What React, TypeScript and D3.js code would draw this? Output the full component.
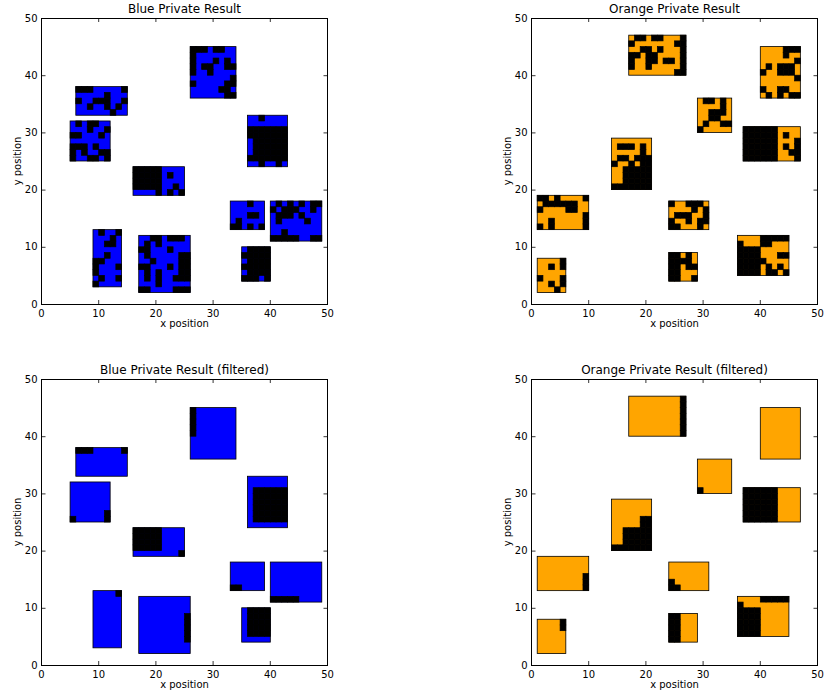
import React from "react";
import * as d3 from "d3";

type Block = { x: number; top: number; rows: string[] };

const blueRaw: Block[] = [
  { x: 6, top: 38, rows: ["###.....#", ".....#...", "#..###..#", "..#..#.#.", "......#.."] },
  { x: 5, top: 32, rows: [".#.##..", "...#..#", "##...#.", ".......", "###.#..", "#.#..##", "#..##.#"] },
  { x: 26, top: 45, rows: ["###.##..", "#.......", "#...#.#.", "#.##..##", "#..#....", ".......#", "#.....##", ".....##.", "......##"] },
  { x: 36, top: 33, rows: ["..#....", ".......", "#######", "#######", ".######", ".######", ".######", "#######", "..#..#."] },
  { x: 16, top: 24, rows: ["#####....", "#####.#..", "#####....", "#####..#.", "....#.#.#"] },
  { x: 33, top: 18, rows: ["...#..", "......", "...##.", ".#....", "##.#.#"] },
  { x: 40, top: 18, rows: [".#.#.#.##", "#.###..#.", ".###.#...", ".#....#..", ".........", "..#......", "#####..##"] },
  { x: 9, top: 13, rows: [".#..#", "...#.", "..##.", ".....", "..#..", "##...", "#...#", "#....", ".#..#", "#...."] },
  { x: 17, top: 12, rows: ["..##.###.", ".#.#.....", "##...#...", ".#.....##", "..#....##", "##...#.##", ".#.#...##", ".#.#..###", "...#.....", "##....###"] },
  { x: 35, top: 10, rows: [".####", "#####", ".####", "#####", ".####", "###.#"] },
];

const orangeRaw: Block[] = [
  { x: 17, top: 47, rows: [".##.##...#", "#.......##", "..##.#...#", "##.##....#", "#..##.##.#", "#..#.....#", "........##"] },
  { x: 40, top: 45, rows: ["....###", "....#..", "......#", ".#.###.", "#..###.", "......#", ".......", "#..##..", ".#.#.##"] },
  { x: 29, top: 36, rows: [".##.#.", "....#.", "..###.", "..##..", ".#..##", "#....."] },
  { x: 37, top: 31, rows: ["######....", "######.#..", "######...#", "######.#.#", "######..##", "######...#"] },
  { x: 14, top: 29, rows: [".......", ".###.#.", ".....#.", ".##.###", "#..#.##", "..#####", "..#####", "..#####", "#######"] },
  { x: 1, top: 19, rows: ["##.#....#", ".######..", "#....##..", "........#", "..#.....#", "#.#.....#"] },
  { x: 24, top: 18, rows: ["#..###.", "....#.#", ".###..#", "#..#.##", "##...#."] },
  { x: 1, top: 8, rows: ["....#", "..#.#", ".....", "#...#", "..#.#", "...#."] },
  { x: 24, top: 9, rows: ["##.#.", "####.", "##.##", "##...", "##..#"] },
  { x: 36, top: 12, rows: ["....#####", "#...##...", "####.....", "####...##", "#####....", "####.#.#.", "####.##.#"] },
];

const blueFiltered: Block[] = [
  { x: 6, top: 38, rows: ["###.....#", ".........", ".........", ".........", "........."] },
  { x: 5, top: 32, rows: [".......", ".......", ".......", ".......", ".......", "......#", "#.....#"] },
  { x: 26, top: 45, rows: ["#.......", "#.......", "#.......", "#.......", "#.......", "........", "........", "........", "........"] },
  { x: 36, top: 33, rows: [".......", ".......", ".######", ".######", ".######", ".######", ".######", ".######", "......."] },
  { x: 16, top: 24, rows: ["#####....", "#####....", "#####....", "#####....", "........#"] },
  { x: 33, top: 18, rows: ["......", "......", "......", "......", "##...."] },
  { x: 40, top: 18, rows: [".........", ".........", ".........", ".........", ".........", ".........", "#####...."] },
  { x: 9, top: 13, rows: ["....#", ".....", ".....", ".....", ".....", ".....", ".....", ".....", ".....", "....."] },
  { x: 17, top: 12, rows: [".........", ".........", ".........", "........#", "........#", "........#", "........#", "........#", ".........", "........."] },
  { x: 35, top: 10, rows: [".####", ".####", ".####", ".####", ".####", "....."] },
];

const orangeFiltered: Block[] = [
  { x: 17, top: 47, rows: [".........#", ".........#", ".........#", ".........#", ".........#", ".........#", ".........#"] },
  { x: 40, top: 45, rows: [".......", ".......", ".......", ".......", ".......", ".......", ".......", ".......", "......."] },
  { x: 29, top: 36, rows: ["......", "......", "......", "......", "......", "#....."] },
  { x: 37, top: 31, rows: ["######....", "######....", "######....", "######....", "######....", "######...."] },
  { x: 14, top: 29, rows: [".......", ".......", ".......", ".....##", ".....##", "..#####", "..#####", "..#####", "#######"] },
  { x: 1, top: 19, rows: [".........", ".........", ".........", "........#", "........#", "........#"] },
  { x: 24, top: 18, rows: [".......", ".......", ".......", "#......", "##....."] },
  { x: 1, top: 8, rows: ["....#", "....#", ".....", ".....", ".....", "....."] },
  { x: 24, top: 9, rows: ["##...", "##...", "##...", "##...", "##..."] },
  { x: 36, top: 12, rows: ["....#####", "#........", "####.....", "####.....", "####.....", "####.....", "####....."] },
];

const tickValues = [0, 10, 20, 30, 40, 50];
const BLUE = "#0000ff";
const ORANGE = "#ffa500";
const FONT = "'DejaVu Sans', sans-serif";
const PANEL = 286;

const x = d3.scaleLinear().domain([0, 50]).range([0, PANEL]);
const y = d3.scaleLinear().domain([0, 50]).range([PANEL, 0]);

function Panel({ left, top, title, color, blocks }: { left: number; top: number; title: string; color: string; blocks: Block[] }) {
  return (
    <g transform={`translate(${left},${top})`} fontFamily={FONT} fill="#000">
      {blocks.map((b, i) => {
        const w = b.rows[0].length;
        const h = b.rows.length;
        return (
          <g key={i}>
            <rect x={x(b.x)} y={y(b.top)} width={x(b.x + w) - x(b.x)} height={y(b.top - h) - y(b.top)} fill={color} />
            {b.rows.flatMap((row, r) =>
              row.split("").map((c, k) =>
                c === "#" ? (
                  <rect
                    key={`${r}-${k}`}
                    x={x(b.x + k)}
                    y={y(b.top - r)}
                    width={x(b.x + k + 1) - x(b.x + k)}
                    height={y(b.top - r - 1) - y(b.top - r)}
                    fill="#000"
                    stroke="#000"
                    strokeWidth={0.7}
                  />
                ) : null
              )
            )}
            <rect x={x(b.x)} y={y(b.top)} width={x(b.x + w) - x(b.x)} height={y(b.top - h) - y(b.top)} fill="none" stroke="#000" strokeWidth={0.8} />
          </g>
        );
      })}
      <rect x={0} y={0.5} width={PANEL} height={PANEL} fill="none" stroke="#000" strokeWidth={1} />
      {tickValues.map((t) => (
        <g key={t}>
          <line x1={x(t)} x2={x(t)} y1={PANEL} y2={PANEL - 4} stroke="#000" strokeWidth={0.8} />
          <line x1={x(t)} x2={x(t)} y1={0} y2={4} stroke="#000" strokeWidth={0.8} />
          <line y1={y(t) + 0.5} y2={y(t) + 0.5} x1={0} x2={4} stroke="#000" strokeWidth={0.8} />
          <line y1={y(t) + 0.5} y2={y(t) + 0.5} x1={PANEL} x2={PANEL - 4} stroke="#000" strokeWidth={0.8} />
          <text x={x(t)} y={PANEL + 13} textAnchor="middle" fontSize={10}>{t}</text>
          <text x={-4} y={y(t) + 3.5} textAnchor="end" fontSize={10}>{t}</text>
        </g>
      ))}
      <text x={PANEL / 2} y={-5} textAnchor="middle" fontSize={12}>{title}</text>
      <text x={PANEL / 2} y={PANEL + 22.5} textAnchor="middle" fontSize={10}>x position</text>
      <text transform={`translate(-21,${PANEL / 2}) rotate(-90)`} textAnchor="middle" fontSize={10}>y position</text>
    </g>
  );
}

export default function App() {
  return (
    <svg width={824} height={693} style={{ position: "absolute", left: 0, top: 0, background: "#fff" }}>
      <Panel left={41.5} top={18} title="Blue Private Result" color={BLUE} blocks={blueRaw} />
      <Panel left={531.5} top={18} title="Orange Private Result" color={ORANGE} blocks={orangeRaw} />
      <Panel left={41.5} top={379} title="Blue Private Result (filtered)" color={BLUE} blocks={blueFiltered} />
      <Panel left={531.5} top={379} title="Orange Private Result (filtered)" color={ORANGE} blocks={orangeFiltered} />
    </svg>
  );
}
